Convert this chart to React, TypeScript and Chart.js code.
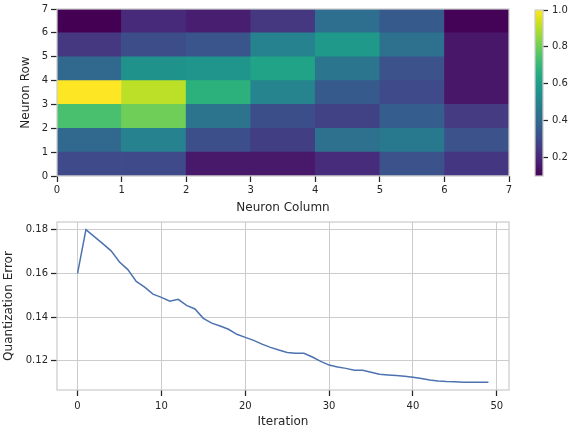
import React, { useEffect, useRef } from 'react';
import { Chart, registerables } from 'chart.js';

Chart.register(...registerables);

// ---------- data ----------
const heatColumns = [0, 1, 2, 3, 4, 5, 6];
const heatRows = [0, 1, 2, 3, 4, 5, 6];
// distance map, row 0 = bottom row
const distanceMap = [
  [0.298, 0.298, 0.159, 0.159, 0.212, 0.325, 0.24],
  [0.397, 0.496, 0.316, 0.262, 0.43, 0.465, 0.325],
  [0.739, 0.802, 0.442, 0.312, 0.271, 0.361, 0.253],
  [1.0, 0.91, 0.676, 0.505, 0.352, 0.298, 0.154],
  [0.397, 0.559, 0.568, 0.622, 0.451, 0.325, 0.154],
  [0.244, 0.307, 0.334, 0.496, 0.586, 0.433, 0.154],
  [0.1, 0.21, 0.175, 0.245, 0.42, 0.35, 0.105],
];
const gridTicks = [0, 1, 2, 3, 4, 5, 6, 7];
const colorbarTicks = [0.2, 0.4, 0.6, 0.8, 1.0];

const iterations = [
  0, 1, 2, 3, 4, 5, 6, 7, 8, 9, 10, 11, 12, 13, 14, 15, 16, 17, 18, 19, 20, 21, 22, 23, 24,
  25, 26, 27, 28, 29, 30, 31, 32, 33, 34, 35, 36, 37, 38, 39, 40, 41, 42, 43, 44, 45, 46, 47, 48, 49,
];
const quantErrors = [
  0.16, 0.18, 0.1768, 0.1736, 0.1703, 0.1652, 0.1617, 0.1563, 0.1537, 0.1505,
  0.149, 0.1472, 0.1481, 0.1453, 0.1437, 0.1394, 0.1372, 0.1359, 0.1344, 0.1321,
  0.1307, 0.1293, 0.1276, 0.1261, 0.1249, 0.1238, 0.1234, 0.1234, 0.1217, 0.1197,
  0.118, 0.1171, 0.1165, 0.1157, 0.1156, 0.1147, 0.1138, 0.1135, 0.1132, 0.1129,
  0.1124, 0.1119, 0.1112, 0.1107, 0.1105, 0.1104, 0.1102, 0.1101, 0.1101, 0.1101,
];
const iterationTicks = [0, 10, 20, 30, 40, 50];
const errorTicks = [0.12, 0.14, 0.16, 0.18];

// ---------- styles ----------
const TEXT = '#262626';
const SPINE = '#cccccc';
const LINE = '#4c72b0';
const FONT = "'DejaVu Sans', sans-serif";

const VIRIDIS = [
  '#440154', '#481567', '#482677', '#453781', '#3F4788', '#39568C', '#32648E', '#2D718E', '#287D8E', '#238A8D',
  '#1F968B', '#20A386', '#29AF7F', '#3CBB75', '#55C667', '#73D055', '#95D840', '#B8DE29', '#DCE319', '#FDE725',
];

function hexToRgb(h: string) {
  const n = parseInt(h.slice(1), 16);
  return [(n >> 16) & 255, (n >> 8) & 255, n & 255];
}

function viridis(t: number) {
  const c = Math.min(1, Math.max(0, t));
  const pos = c * (VIRIDIS.length - 1);
  const i = Math.min(VIRIDIS.length - 2, Math.floor(pos));
  const f = pos - i;
  const a = hexToRgb(VIRIDIS[i]);
  const b = hexToRgb(VIRIDIS[i + 1]);
  const m = a.map((v, k) => Math.round(v + (b[k] - v) * f));
  return `rgb(${m[0]},${m[1]},${m[2]})`;
}

const framePlugin = {
  id: 'frame',
  afterDatasetsDraw(chart: any) {
    const { ctx, chartArea: a } = chart;
    ctx.save();
    ctx.strokeStyle = SPINE;
    ctx.lineWidth = 1.25;
    ctx.strokeRect(a.left, a.top, a.right - a.left, a.bottom - a.top);
    ctx.restore();
  },
};

const tickGrid = (onArea: boolean, len = 6) => ({
  display: true,
  drawOnChartArea: onArea,
  drawTicks: true,
  color: SPINE,
  lineWidth: 1,
  tickLength: len,
  tickColor: TEXT,
  tickWidth: 1.25,
  offset: false,
});

const setTicks = (vals: number[]) => (s: any) => {
  s.ticks = vals.map((v) => ({ value: v }));
};

export default function App() {
  const heatRef = useRef<HTMLCanvasElement>(null);
  const lineRef = useRef<HTMLCanvasElement>(null);
  const barRef = useRef<HTMLCanvasElement>(null);

  useEffect(() => {
    Chart.defaults.font.family = FONT;
    Chart.defaults.color = TEXT;

    const all = distanceMap.flat();
    const vmin = Math.min(...all);
    const vmax = Math.max(...all);

    const heat = new Chart(heatRef.current!, {
      type: 'bar',
      data: {
        datasets: heatRows.map((r) => ({
          data: heatColumns.map((c) => ({ x: c + 0.5, y: [r, r + 1] })),
          backgroundColor: distanceMap[r].map((v) => viridis((v - vmin) / (vmax - vmin))),
          borderWidth: 0,
          grouped: false,
          barPercentage: 1,
          categoryPercentage: 1,
        })),
      } as any,
      options: {
        animation: false,
        responsive: false,
        events: [],
        layout: { padding: { left: 0, top: 8, right: 67, bottom: 216 } },
        plugins: { legend: { display: false }, tooltip: { enabled: false } },
        scales: {
          x: {
            type: 'linear',
            min: 0,
            max: 7,
            offset: false,
            afterBuildTicks: setTicks(gridTicks),
            afterFit: (s: any) => { s.height = 40; },
            grid: tickGrid(false),
            border: { display: false },
            ticks: { font: { size: 10 }, color: TEXT, padding: 2, maxRotation: 0 },
            title: { display: true, text: 'Neuron Column', font: { size: 12 }, color: TEXT, padding: { top: 0, bottom: 1 } },
          },
          y: {
            type: 'linear',
            min: 0,
            max: 7,
            afterBuildTicks: setTicks(gridTicks),
            afterFit: (s: any) => { s.width = 57; },
            grid: tickGrid(false),
            border: { display: false },
            ticks: { font: { size: 10 }, color: TEXT, padding: 3 },
            title: { display: true, text: 'Neuron Row', font: { size: 12 }, color: TEXT, padding: { top: 19, bottom: 0 } },
          },
        },
      } as any,
      plugins: [framePlugin],
    });

    const cbar = new Chart(barRef.current!, {
      type: 'bar',
      data: {
        labels: [''],
        datasets: [
          {
            data: [[vmin, vmax]],
            backgroundColor: (ctx: any) => {
              const area = ctx.chart.chartArea;
              if (!area) return VIRIDIS[0];
              const g = ctx.chart.ctx.createLinearGradient(0, area.bottom, 0, area.top);
              VIRIDIS.forEach((c, i) => g.addColorStop(i / (VIRIDIS.length - 1), c));
              return g;
            },
            borderWidth: 0,
            barPercentage: 1,
            categoryPercentage: 1,
          },
        ],
      } as any,
      options: {
        animation: false,
        responsive: false,
        events: [],
        layout: { padding: { left: 535, top: 8, right: 0, bottom: 256 } },
        plugins: { legend: { display: false }, tooltip: { enabled: false } },
        scales: {
          x: { display: false, offset: true },
          y: {
            position: 'right',
            min: vmin,
            max: vmax,
            afterBuildTicks: setTicks(colorbarTicks),
            afterFit: (s: any) => { s.width = 33; },
            grid: tickGrid(false, 5),
            border: { display: false },
            ticks: { font: { size: 10 }, color: TEXT, padding: 4, callback: (v: any) => Number(v).toFixed(1) },
          },
        },
      } as any,
      plugins: [framePlugin],
    });

    const xLo = Math.min(...iterations);
    const xHi = Math.max(...iterations);
    const yLo = Math.min(...quantErrors);
    const yHi = Math.max(...quantErrors);
    const xm = (xHi - xLo) * 0.05;
    const ym = (yHi - yLo) * 0.05;

    const line = new Chart(lineRef.current!, {
      type: 'line',
      data: {
        datasets: [
          {
            data: iterations.map((x, i) => ({ x, y: quantErrors[i] })),
            borderColor: LINE,
            borderWidth: 1.5,
            pointRadius: 0,
            tension: 0,
            fill: false,
          },
        ],
      },
      options: {
        animation: false,
        responsive: false,
        events: [],
        layout: { padding: { left: 0, top: 222, right: 67, bottom: 0 } },
        plugins: { legend: { display: false }, tooltip: { enabled: false } },
        scales: {
          x: {
            type: 'linear',
            min: xLo - xm,
            max: xHi + xm,
            afterBuildTicks: setTicks(iterationTicks),
            afterFit: (s: any) => { s.height = 42; },
            grid: tickGrid(true),
            border: { display: false },
            ticks: { font: { size: 10 }, color: TEXT, padding: 4, maxRotation: 0 },
            title: { display: true, text: 'Iteration', font: { size: 12 }, color: TEXT, padding: { top: 0, bottom: 3 } },
          },
          y: {
            type: 'linear',
            min: yLo - ym,
            max: yHi + ym,
            afterBuildTicks: setTicks(errorTicks),
            afterFit: (s: any) => { s.width = 57; },
            grid: tickGrid(true),
            border: { display: false },
            ticks: { font: { size: 10 }, color: TEXT, padding: 3, callback: (v: any) => Number(v).toFixed(2) },
            title: { display: true, text: 'Quantization Error', font: { size: 12 }, color: TEXT, padding: { top: 2, bottom: 0 } },
          },
        },
      } as any,
      plugins: [framePlugin],
    });

    return () => {
      heat.destroy();
      cbar.destroy();
      line.destroy();
    };
  }, []);

  const cs: React.CSSProperties = { position: 'absolute', left: 0, top: 0, width: 576, height: 432 };
  return (
    <div style={{ position: 'fixed', left: 0, top: 0, width: 576, height: 432, background: '#ffffff' }}>
      <canvas ref={heatRef} width={576} height={432} style={cs} />
      <canvas ref={barRef} width={576} height={432} style={cs} />
      <canvas ref={lineRef} width={576} height={432} style={cs} />
    </div>
  );
}
